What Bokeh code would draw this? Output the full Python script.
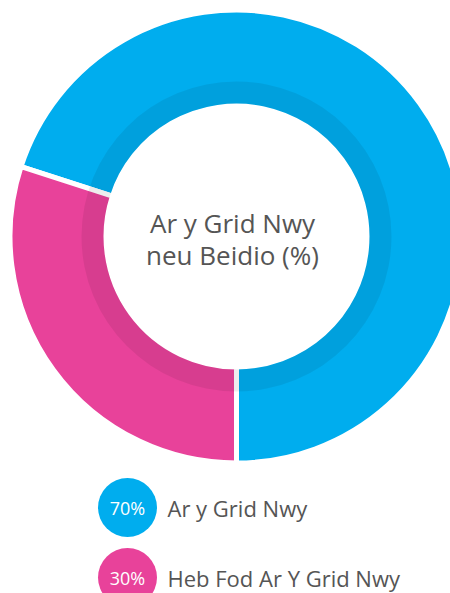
import math
from bokeh.plotting import figure
from bokeh.models import Range1d
from bokeh.core.properties import value
from bokeh.embed import file_html
from bokeh.resources import INLINE

# ---- data ----
categories = ["Ar y Grid Nwy", "Heb Fod Ar Y Grid Nwy"]
percentages = [70, 30]
colors = ["#00ADEE", "#E8429A"]
title_lines = ["Ar y Grid Nwy", "neu Beidio (%)"]

W, H = 450, 593
FONT = value("Open Sans")

p = figure(width=W, height=H, output_backend="svg", toolbar_location=None,
           x_range=Range1d(0, W), y_range=Range1d(0, H),
           min_border=0, outline_line_color=None)
p.axis.visible = False
p.xgrid.visible = False
p.ygrid.visible = False
p.background_fill_color = "white"
p.border_fill_color = "white"

cx, cy = 236, H - 236
r_out, r_in = 224, 133
gap = 5

# wedges: start at bottom, counter-clockwise
start = 1.5 * math.pi
total = sum(percentages)
for pct, col in zip(percentages, colors):
    span = 2 * math.pi * pct / total
    p.annular_wedge(x=cx, y=cy, inner_radius=r_in - gap / 2, outer_radius=r_out + gap / 2,
                    start_angle=start, end_angle=start + span,
                    fill_color=col, line_color="white", line_width=gap)
    start += span

# inner shadow band
p.annulus(x=cx, y=cy, inner_radius=r_in, outer_radius=155,
          fill_color="black", fill_alpha=0.07, line_color=None)

# center title
p.text(x=[cx - 4, cx - 4], y=[cy + 14, cy - 18], text=title_lines,
       text_font=FONT, text_font_size="26px", text_color="#555555",
       text_align="center", text_baseline="middle")

# legend
lx, ly0, dy = 127, H - 507, 70
for i, (cat, pct, col) in enumerate(zip(categories, percentages, colors)):
    y = ly0 - i * dy
    p.circle(x=[lx], y=[y], radius=29.5, fill_color=col, line_color=None)
    p.text(x=[lx], y=[y], text=[f"{pct}%"], text_font=FONT, text_font_size="18px",
           text_color="white", text_align="center", text_baseline="middle")
    p.text(x=[lx + 40], y=[y], text=[cat], text_font=FONT, text_font_size="22px",
           text_color="#555555", text_align="left", text_baseline="middle")

open("out.html", "w").write(file_html(p, INLINE))
